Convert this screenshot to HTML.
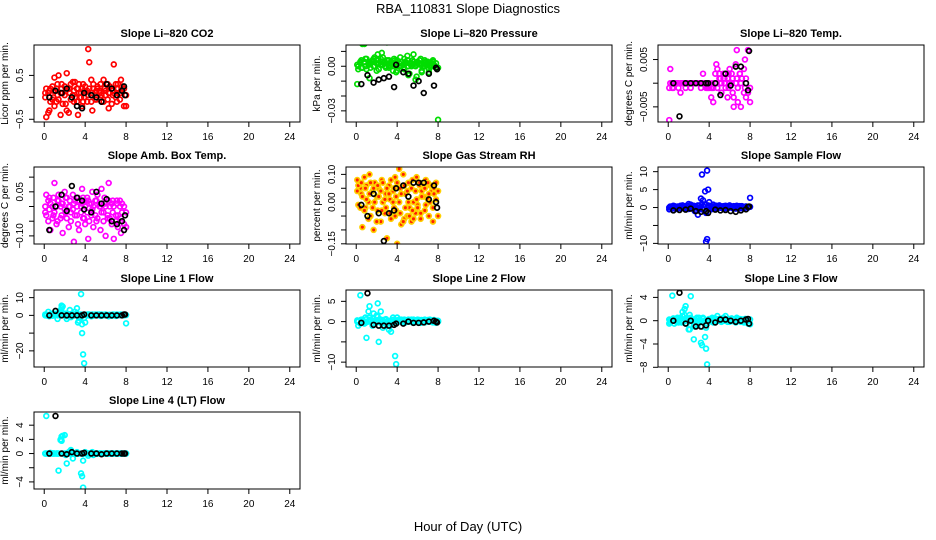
<!DOCTYPE html>
<html><head><meta charset="utf-8"><style>
html,body{margin:0;padding:0;background:#fff;}
svg{display:block;font-family:"Liberation Sans",Arial,sans-serif;}
</style></head><body>
<svg id="chart" width="936" height="540" viewBox="0 0 936 540">
<text x="468" y="13" text-anchor="middle" font-size="13">RBA_110831  Slope Diagnostics</text>
<text x="468" y="531" text-anchor="middle" font-size="13">Hour of Day (UTC)</text>
</svg>
<script>
const xTicks = [0,4,8,12,16,20,24];
const times = [0.1,0.2,0.4,0.5,0.6,0.8,0.9,1.0,1.2,1.3,1.4,1.6,1.7,1.8,2.0,2.1,2.2,2.4,2.5,2.6,2.8,2.9,3.0,3.2,3.3,3.4,3.6,3.7,3.8,3.9,4.0,4.2,4.3,4.4,4.6,4.7,4.8,5.0,5.1,5.2,5.4,5.5,5.6,5.8,5.9,6.0,6.2,6.3,6.4,6.6,6.7,6.8,7.0,7.1,7.2,7.4,7.5,7.6,7.8,8.0];
const blackTimes = [0.5,1.1,1.7,2.2,2.7,3.2,3.7,3.9,4.6,5.1,5.6,6.1,6.6,7.1,7.6,7.8,7.9];

const co2A = [0.0,-0.45,0.1,-0.3,0.2,-0.05,0.15,0.45,-0.1,0.3,0.5,-0.4,0.2,0.1,0.25,-0.15,0.55,-0.35,0.2,0.3,0.05,-0.1,0.35,0.2,-0.4,0.1,0.0,-0.2,0.3,0.15,0.1,-0.1,1.1,0.8,0.4,-0.3,0.2,0.1,-0.05,0.25,0.15,0.0,-0.1,0.4,0.2,0.05,0.3,-0.25,0.1,0.2,0.15,0.75,0.3,-0.1,0.2,0.1,0.4,0.25,-0.2,0.05];
const co2B = [0.1,0.2,-0.35,0.15,-0.1,0.25,0.0,-0.2,0.2,0.05,-0.05,0.1,0.3,-0.15,0.05,0.15,-0.3,0.2,0.1,-0.05,0.35,0.15,0.0,-0.1,0.2,0.3,0.1,0.2,-0.1,0.0,0.25,0.15,0.05,0.2,-0.1,0.1,0.3,-0.05,0.15,0.2,0.1,0.3,0.05,-0.1,0.2,0.15,-0.05,0.1,0.25,-0.15,0.05,0.1,0.0,0.2,0.3,-0.05,0.1,0.15,0.2,-0.2];
const co2K = [0.0,0.15,0.1,0.2,0.0,-0.2,-0.25,0.1,0.05,0.0,-0.1,0.3,0.2,0.05,0.15,0.25,0.05];

const presA = [-0.012,0.0,0.003,-0.001,0.015,0.015,0.005,-0.002,0.003,-0.008,0.002,0.004,0.0,0.006,-0.003,0.008,0.002,0.005,0.009,0.001,0.003,-0.001,0.016,0.004,0.0,0.002,-0.003,0.005,0.001,-0.004,0.004,0.002,0.006,0.0,-0.001,0.005,0.003,0.007,-0.006,0.002,0.0,0.004,0.008,-0.009,0.001,0.003,0.002,0.005,-0.004,0.0,0.004,0.001,0.003,-0.002,0.0,0.002,0.004,0.0,-0.001,-0.036];
const presB = [0.001,-0.002,0.002,0.004,-0.001,0.003,0.0,0.005,0.001,0.002,-0.001,0.003,0.005,0.0,0.002,0.004,-0.002,0.001,0.003,0.006,0.0,0.002,0.004,-0.001,0.001,0.003,0.0,0.002,0.004,0.001,-0.003,0.002,0.0,0.003,0.001,-0.002,0.002,0.004,0.0,-0.005,0.002,0.001,0.003,0.0,-0.007,0.002,0.004,0.001,-0.003,0.002,0.0,0.003,0.001,-0.004,0.002,0.0,0.003,0.001,0.002,-0.001];
const presK = [-0.012,-0.006,-0.011,-0.009,-0.008,-0.007,-0.014,0.001,-0.004,-0.005,-0.013,-0.01,-0.018,-0.005,-0.013,-0.001,-0.002];

const tempA = [-0.0078,0.003,-0.001,0.0,0.0,0.0,0.0,0.0,-0.002,0.0,0.0,0.0,0.0,0.0,0.0,0.0,0.0,0.0,0.0,0.0,0.0,0.0,0.0,0.0,0.0,0.002,0.0,0.0,-0.001,-0.001,0.0,-0.003,-0.001,-0.004,0.0,0.004,0.003,0.002,0.001,0.0,0.002,0.001,-0.001,-0.003,0.002,0.003,0.0,-0.002,-0.005,0.004,0.007,-0.004,0.002,-0.005,0.001,-0.002,0.005,-0.003,0.007,-0.001];
const tempB = [-0.001,0.0,0.0,-0.001,0.0,0.0,0.0,-0.001,0.0,0.0,0.0,0.0,-0.001,0.0,0.0,0.0,-0.001,0.0,0.0,0.0,0.0,0.0,0.0,-0.001,0.0,0.0,0.0,-0.001,0.0,0.0,-0.001,-0.001,0.0,-0.001,0.002,0.0,-0.001,0.001,0.0,-0.002,0.001,0.0,0.002,0.001,-0.001,0.0,0.002,0.001,-0.003,0.0,0.001,-0.001,0.002,0.0,0.001,0.003,-0.001,0.001,-0.002,-0.004];
const tempK = [0.0,-0.007,0.0,0.0,0.0,0.0,0.0,0.0,0.0,-0.0025,0.002,-0.0005,0.0035,0.0035,0.0,-0.0015,0.0068];

const ambA = [-0.02,0.04,-0.05,0.03,-0.08,0.0,-0.03,0.08,-0.06,0.02,0.04,-0.04,0.01,-0.09,0.05,-0.02,0.03,-0.07,0.0,-0.05,0.04,-0.12,0.02,-0.03,0.03,-0.08,0.0,0.06,-0.04,0.02,-0.06,0.03,-0.11,0.01,-0.03,0.05,-0.07,0.02,-0.05,0.04,0.0,-0.08,0.06,-0.02,0.03,-0.1,-0.04,0.08,0.0,-0.06,0.02,-0.11,-0.03,0.01,-0.07,0.02,-0.09,-0.02,0.0,-0.07];
const ambB = [0.0,-0.03,0.02,-0.01,0.01,-0.04,0.03,-0.02,0.0,-0.05,0.02,0.0,-0.03,0.01,-0.01,0.03,-0.04,0.0,0.02,-0.02,-0.01,0.01,-0.03,0.0,-0.06,0.02,-0.02,0.01,0.03,-0.04,0.0,-0.02,0.02,-0.05,0.01,-0.01,0.0,-0.03,0.02,-0.04,0.01,0.0,-0.02,-0.05,0.01,0.0,-0.03,0.02,-0.04,0.01,-0.02,0.0,-0.05,0.02,-0.03,0.0,-0.04,0.01,-0.06,-0.02];
const ambK = [-0.08,0.0,0.04,-0.015,0.07,0.03,0.02,-0.01,-0.02,0.05,0.01,0.025,-0.05,-0.06,-0.05,-0.08,-0.03];

const rhA = [0.08,-0.01,0.05,0.03,-0.09,0.09,-0.02,0.06,0.0,0.1,-0.05,0.04,-0.1,0.07,0.02,-0.03,0.05,-0.07,0.08,0.0,-0.04,0.03,-0.13,0.06,0.01,-0.06,0.04,-0.02,0.09,-0.03,-0.15,0.12,0.05,-0.08,0.1,-0.06,0.03,-0.05,0.07,-0.02,-0.07,0.08,0.0,-0.04,0.09,-0.01,0.06,-0.06,0.04,0.02,-0.03,0.08,0.01,-0.05,0.06,0.04,-0.07,0.03,0.07,0.04];
const rhB = [0.04,0.06,-0.02,0.07,0.02,-0.03,0.05,0.01,-0.06,0.03,0.07,-0.02,0.05,0.0,-0.07,0.06,0.02,0.04,-0.03,0.07,0.01,-0.02,0.05,0.03,-0.04,0.08,0.0,0.05,-0.05,0.02,0.07,0.0,-0.04,0.03,-0.07,0.06,-0.02,0.04,0.0,-0.05,0.05,-0.03,-0.06,0.04,0.01,-0.02,0.07,-0.04,0.02,0.06,0.05,-0.01,0.07,0.03,0.0,0.06,-0.02,0.05,0.01,-0.05];
const rhK = [-0.01,-0.05,0.03,-0.04,-0.14,-0.04,-0.03,0.05,0.06,0.02,0.07,0.07,0.07,0.01,0.06,0.0,-0.02];

const sampA = [-0.5,0.2,-0.3,0.5,0.1,-0.4,0.3,0.0,-0.2,0.4,0.6,0.0,-0.3,0.5,1.0,0.2,0.8,-0.2,0.5,-1.0,-0.8,-2.0,0.5,2.5,9.2,2.0,4.5,-9.5,10.3,5.0,1.5,-0.5,0.3,0.8,0.0,0.5,-0.3,0.6,0.2,0.0,0.4,-0.2,0.5,0.3,-0.1,0.6,0.2,0.0,0.4,-0.3,0.5,0.1,0.3,-0.2,0.4,0.0,0.2,0.3,0.1,2.7];
const sampB = [0.0,0.3,0.1,-0.2,0.4,0.0,-0.3,0.2,0.5,0.0,-0.2,0.3,0.1,0.0,-0.4,0.3,0.0,0.5,-0.1,0.2,0.0,0.6,-0.5,0.3,1.0,-0.6,0.8,-1.5,-8.8,0.6,0.0,0.4,-0.2,0.1,0.5,-0.3,0.2,0.0,0.4,-0.1,0.3,0.0,-0.2,0.4,0.1,0.0,0.3,-0.2,0.2,0.0,0.3,-0.1,0.4,0.0,0.2,-0.3,0.1,0.3,0.0,0.2];
const sampK = [-0.8,-0.7,-0.6,-0.3,-1.0,-1.2,-1.0,-1.5,-0.6,-0.8,-0.7,-1.0,-1.2,-0.8,-0.5,0.2,0.3];

const l1A = [0.5,0.0,2.0,-0.5,0.0,1.0,0.5,0.0,0.5,-2.0,0.5,2.0,4.0,5.0,1.0,0.0,-2.0,0.5,3.0,-1.0,0.0,0.5,2.0,4.0,-4.0,-3.0,12.0,-10.0,-22.0,-27.0,-4.0,0.5,0.0,0.5,-0.5,0.5,0.0,0.5,0.3,0.0,0.5,-0.3,0.5,0.0,0.3,0.5,0.0,-0.5,0.3,0.0,0.5,0.3,-0.3,0.5,0.0,0.3,0.5,0.0,0.3,-4.5];
const l1B = [0.0,0.5,-0.3,0.2,0.6,-0.2,0.0,1.0,0.3,0.0,1.5,3.0,5.5,0.5,0.0,1.0,-0.5,0.3,0.0,0.8,-0.3,0.0,0.5,1.0,0.0,-1.0,0.5,-5.0,0.0,-1.5,0.3,0.0,0.5,0.2,0.0,0.4,-0.2,0.0,0.3,0.5,0.0,0.2,-0.2,0.3,0.0,0.4,0.2,0.0,0.3,-0.2,0.0,0.4,0.2,0.0,0.3,0.0,0.2,0.4,0.0,0.2];
const l1K = [0.0,2.5,0.0,0.0,0.0,0.0,0.0,0.5,0.0,0.0,0.0,0.0,0.0,0.0,0.0,0.5,0.5];

const l2A = [0.0,-1.0,6.5,0.5,0.0,-0.5,1.0,-4.0,2.5,3.8,0.5,-1.0,2.0,0.0,1.5,4.5,-5.0,2.5,0.0,-1.5,0.5,-0.5,0.0,-2.0,-1.0,-2.5,1.0,0.5,-8.5,-10.5,1.0,0.3,0.0,0.5,-0.3,0.5,0.2,0.0,0.5,0.0,0.3,-0.2,0.5,0.3,0.0,0.5,0.2,-0.3,0.4,0.0,0.5,0.2,0.0,0.3,0.5,0.0,-0.2,0.4,0.2,0.0];
const l2B = [0.3,0.0,-0.5,0.2,0.5,0.0,-0.3,0.6,0.0,1.0,0.2,-0.4,0.8,0.3,-0.2,1.2,0.0,0.5,-0.5,0.3,0.0,0.6,-0.3,0.2,0.0,-0.5,0.4,0.0,-0.2,0.3,0.0,0.5,0.2,0.0,0.3,0.0,-0.2,0.4,0.0,0.2,0.5,0.0,0.3,-0.1,0.2,0.0,0.4,0.1,0.0,0.3,-0.2,0.0,0.4,0.1,0.0,0.3,0.2,0.0,-0.3,0.2];
const l2K = [-0.3,7.0,-0.8,-1.0,-1.0,-1.0,-0.8,-0.5,-0.5,0.0,-0.3,-0.3,-0.2,0.0,0.2,0.0,-0.2];

const l3A = [-0.5,0.0,4.3,0.3,-0.5,0.0,0.5,-0.3,0.3,0.0,1.5,2.0,2.5,0.5,-1.5,1.0,4.2,0.0,-3.2,-1.0,0.5,-0.5,0.0,-3.8,-4.2,0.5,-2.8,-4.8,-7.5,0.0,0.3,0.0,0.5,-0.3,0.2,0.0,0.8,0.0,0.3,-0.2,0.5,0.0,0.8,0.0,0.3,-0.2,0.4,0.0,0.2,-0.3,0.5,0.0,0.3,0.0,0.2,-0.3,0.0,0.3,-0.5,-0.6];
const l3B = [0.2,-0.3,0.0,0.4,0.0,-0.2,0.3,0.0,0.5,-0.3,0.8,1.0,0.0,-0.5,0.3,-1.5,0.5,0.2,-0.8,0.0,0.3,-0.2,0.5,0.0,-1.0,0.3,0.0,-1.2,-0.5,0.2,0.0,0.3,-0.2,0.0,0.4,0.1,0.0,0.3,-0.1,0.2,0.0,0.4,0.1,-0.2,0.0,0.3,0.0,0.2,-0.1,0.0,0.3,0.1,0.0,-0.2,0.2,0.0,0.3,-0.1,0.0,0.2];
const l3K = [0.0,4.8,-0.5,0.0,-1.0,-1.0,-0.8,0.0,-0.3,0.2,0.2,0.0,-0.2,0.0,0.2,0.3,-0.5];

const l4A = [0.0,5.3,0.0,0.0,0.0,0.0,0.0,0.0,0.0,0.0,-2.4,2.0,1.8,2.5,2.6,0.0,-1.4,0.2,0.0,0.5,0.0,0.0,0.0,0.0,0.0,0.0,-2.8,-3.2,-4.8,0.0,0.0,0.0,-0.3,0.0,0.0,0.2,0.0,0.0,0.0,0.0,0.0,0.0,0.0,0.0,0.0,0.0,0.0,0.0,0.0,0.0,0.0,0.0,0.0,0.0,0.0,0.0,0.0,0.0,0.0,0.0];
const l4B = [0.0,0.0,0.0,0.0,0.1,0.0,0.0,0.0,0.0,0.0,0.0,1.9,2.4,0.0,0.0,-0.2,0.0,0.0,0.3,0.0,-0.7,0.0,0.0,0.2,0.0,0.0,0.0,0.0,-1.0,0.0,0.2,0.0,0.0,0.0,0.0,0.0,-0.2,0.0,0.0,0.0,0.0,0.0,0.0,0.0,0.0,0.0,0.0,0.0,0.0,0.0,0.0,0.0,0.0,0.0,0.0,0.0,0.0,0.0,0.0,0.0];
const l4K = [0.0,5.3,0.0,-0.1,0.2,0.0,0.0,0.1,0.0,0.0,-0.1,0.0,0.0,0.0,0.0,0.0,0.0];

const panels = [
 {c:0,r:0,title:"Slope Li-820 CO2",yl:"Licor ppm per min.",lo:-0.562,hi:1.193,ticks:[-0.5,0,0.5],labs:["−0.5","","0.5"],col:"#ff0000",a:co2A,b:co2B,k:co2K,name:"co2"},
 {c:1,r:0,title:"Slope Li-820 Pressure",yl:"kPa per min.",lo:-0.0375,hi:0.0143,ticks:[-0.03,-0.02,-0.01,0,0.01],labs:["−0.03","","","0.00",""],col:"#00dd00",a:presA,b:presB,k:presK,name:"pressure"},
 {c:2,r:0,title:"Slope Li-820 Temp.",yl:"degrees C per min.",lo:-0.0082,hi:0.00807,ticks:[-0.005,0,0.005],labs:["−0.005","","0.005"],col:"#ff00ff",a:tempA,b:tempB,k:tempK,name:"li820-temp"},
 {c:0,r:1,title:"Slope Amb. Box Temp.",yl:"degrees C per min.",lo:-0.1276,hi:0.1345,ticks:[-0.1,-0.05,0,0.05,0.1],labs:["−0.10","","","0.05",""],col:"#ff00ff",a:ambA,b:ambB,k:ambK,name:"amb-box-temp"},
 {c:1,r:1,title:"Slope Gas Stream RH",yl:"percent per min.",lo:-0.1507,hi:0.1266,ticks:[-0.15,-0.1,-0.05,0,0.05,0.1],labs:["−0.15","","","0.00","","0.10"],col:"#ffd000",inner:"#ff2000",a:rhA,b:rhB,k:rhK,name:"gas-stream-rh"},
 {c:2,r:1,title:"Slope Sample Flow",yl:"ml/min per min.",lo:-10.17,hi:11.3,ticks:[-10,-5,0,5,10],labs:["−10","","0","5","10"],col:"#0000ff",a:sampA,b:sampB,k:sampK,name:"sample-flow"},
 {c:0,r:2,title:"Slope Line 1 Flow",yl:"ml/min per min.",lo:-29.1,hi:14.3,ticks:[-20,-10,0,10],labs:["−20","","0","10"],col:"#00ffff",a:l1A,b:l1B,k:l1K,name:"line1-flow"},
 {c:1,r:2,title:"Slope Line 2 Flow",yl:"ml/min per min.",lo:-11.2,hi:7.8,ticks:[-10,-5,0,5],labs:["−10","","0","5"],col:"#00ffff",a:l2A,b:l2B,k:l2K,name:"line2-flow"},
 {c:2,r:2,title:"Slope Line 3 Flow",yl:"ml/min per min.",lo:-7.95,hi:5.27,ticks:[-8,-4,0,4],labs:["−8","−4","0","4"],col:"#00ffff",a:l3A,b:l3B,k:l3K,name:"line3-flow"},
 {c:0,r:3,title:"Slope Line 4 (LT) Flow",yl:"ml/min per min.",lo:-5.0,hi:5.86,ticks:[-4,-2,0,2,4],labs:["−4","","0","2","4"],col:"#00ffff",a:l4A,b:l4B,k:l4K,name:"line4-flow"}
];

const NS="http://www.w3.org/2000/svg";
const svg=document.getElementById('chart');
const colX=[34,346,658], rowY=[45,167,290,412], W=266, H=77;
function mk(tag,attrs,parent){const e=document.createElementNS(NS,tag);for(const k in attrs)e.setAttribute(k,attrs[k]);parent.appendChild(e);return e;}

panels.forEach(p=>{
  const x0=colX[p.c], y0=rowY[p.r];
  const g=mk('g',{},svg);
  
  
  const xs=h=>x0+(h+1)*W/26;
  const ys=v=>y0+H-(v-p.lo)/(p.hi-p.lo)*H;
  const t=mk('text',{x:x0+W/2,y:y0-8,'text-anchor':'middle','font-size':'11','font-weight':'bold'},g);
  t.textContent=p.title.replace('-', '–');
  
  
  const yt=mk('text',{x:0,y:0,'text-anchor':'middle','font-size':'10',transform:`translate(${x0-26},${y0+H/2}) rotate(-90)`},g);
  yt.textContent=p.yl;
  
  
  const xa=mk('g',{},g);
  
  
  mk('line',{x1:xs(xTicks[0]),x2:xs(xTicks[xTicks.length-1]),y1:y0+H,y2:y0+H,stroke:'#000'},xa);
  xTicks.forEach(v=>{
    mk('line',{x1:xs(v),x2:xs(v),y1:y0+H,y2:y0+H+5,stroke:'#000'},xa);
    const l=mk('text',{x:xs(v),y:y0+H+18,'text-anchor':'middle','font-size':'10'},xa);
    l.textContent=v;
    
    
  });
  const ya=mk('g',{},g);
  
  
  mk('line',{x1:x0,x2:x0,y1:ys(p.ticks[0]),y2:ys(p.ticks[p.ticks.length-1]),stroke:'#000'},ya);
  p.ticks.forEach((v,i)=>{
    mk('line',{x1:x0-5,x2:x0,y1:ys(v),y2:ys(v),stroke:'#000'},ya);
    if(p.labs[i]){
      const l=mk('text',{x:0,y:0,'text-anchor':'middle','font-size':'10',transform:`translate(${x0-11},${ys(v)}) rotate(-90)`},ya);
      l.textContent=p.labs[i];
      
      
    }
  });
  const clipId='clip-'+p.name;
  const cp=mk('clipPath',{id:clipId},g);
  mk('rect',{x:x0,y:y0,width:W,height:H},cp);
  const pts=mk('g',{'clip-path':`url(#${clipId})`},g);
  
  
  const draw=(arr,tarr,color,inner)=>{
    arr.forEach((v,i)=>{
      const c=mk('circle',{cx:xs(tarr[i]),cy:ys(v),r:2.4,fill:inner?inner:'none',stroke:color,'stroke-width':1.7},pts);
      
      
    });
  };
  draw(p.a,times,p.col,p.inner);
  draw(p.b,times,p.col,p.inner);
  draw(p.k,blackTimes,'#000');
  const box=mk('rect',{x:x0,y:y0,width:W,height:H,fill:'none',stroke:'#000','stroke-width':1},g);
  
  
});
</script>
</body></html>
